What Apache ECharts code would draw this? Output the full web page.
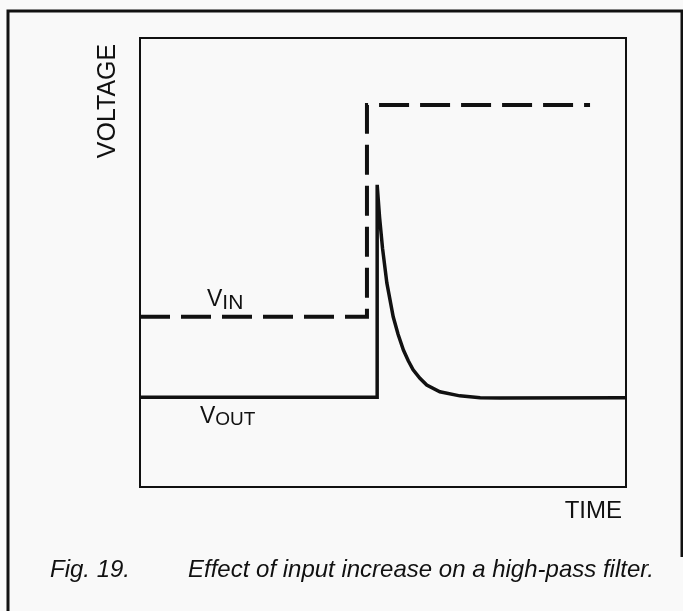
<!DOCTYPE html>
<html>
<head>
<meta charset="utf-8">
<script src="https://cdn.jsdelivr.net/npm/echarts@6/dist/echarts.min.js"></script>
<style>
html,body{margin:0;padding:0;background:#f9f9f9;}
#chart{width:683px;height:611px;}
</style>
</head>
<body>
<div id="chart"></div>
<script>
// V_IN (dashed): step input
const vinTime    = [0, 46.7, 46.7, 92.6];
const vinVoltage = [37.9, 37.9, 85.1, 85.1];
// V_OUT (solid): high-pass filter response
const voutTime    = [0, 48.8, 48.8, 49.3, 49.9, 50.8, 52.1, 53.1, 54.2, 55.2, 56.2, 57.6, 59.0, 61.7, 65.8, 70.0, 74.1, 100];
const voutVoltage = [20, 20, 67.3, 60.0, 53.2, 45.4, 37.9, 34.0, 30.5, 28.1, 26.1, 24.2, 22.7, 21.2, 20.3, 19.9, 19.8, 19.9];
// text
const yTitle = 'VOLTAGE';
const xTitle = 'TIME';
const caption1 = 'Fig. 19.';
const caption2 = 'Effect of input increase on a high-pass filter.';

const zip = (a, b) => a.map((v, i) => [v, b[i]]);

const chart = echarts.init(document.getElementById('chart'), null, {renderer: 'canvas'});
const ink = '#111';
const font = '"Liberation Sans", Arial, sans-serif';

chart.setOption({
  backgroundColor: '#f9f9f9',
  animation: false,
  grid: {left: 140, top: 38, right: 57, bottom: 124, show: true, borderColor: ink, borderWidth: 2, backgroundColor: 'transparent'},
  xAxis: {type: 'value', min: 0, max: 100, axisLine: {show: false}, axisTick: {show: false}, axisLabel: {show: false}, splitLine: {show: false}},
  yAxis: {type: 'value', min: 0, max: 100, axisLine: {show: false}, axisTick: {show: false}, axisLabel: {show: false}, splitLine: {show: false}},
  series: [
    {
      name: 'VIN', type: 'line', data: zip(vinTime, vinVoltage), showSymbol: false, symbol: 'none',
      lineStyle: {color: ink, width: 4, type: [30, 11], cap: 'butt', join: 'miter'}
    },
    {
      name: 'VOUT', type: 'line', data: zip(voutTime, voutVoltage), showSymbol: false, symbol: 'none',
      lineStyle: {color: ink, width: 3.5, type: 'solid', cap: 'butt', join: 'miter'}
    }
  ],
  graphic: [
    {type: 'polyline', shape: {points: [[8, 611], [8, 11], [682, 11], [682, 557]]},
     style: {stroke: ink, lineWidth: 3, fill: null}},
    {type: 'text', x: 108, y: 101, rotation: Math.PI / 2,
     style: {text: yTitle, font: '25px ' + font, fill: ink, textAlign: 'center', textVerticalAlign: 'middle'}},
    {type: 'text', x: 622, y: 511,
     style: {text: xTitle, font: '24px ' + font, fill: ink, textAlign: 'right', textVerticalAlign: 'middle'}},
    {type: 'text', x: 207, y: 288,
     style: {text: '{v|V}{s|IN}', fill: ink,
       rich: {v: {fontSize: 23, fontFamily: font, color: ink, verticalAlign: 'top', lineHeight: 20},
              s: {fontSize: 21, fontFamily: font, color: ink, verticalAlign: 'bottom', lineHeight: 26, padding: [6, 0, 0, 0]}}}},
    {type: 'text', x: 200, y: 405,
     style: {text: '{v|V}{s|OUT}', fill: ink,
       rich: {v: {fontSize: 23, fontFamily: font, color: ink, verticalAlign: 'top', lineHeight: 20},
              s: {fontSize: 19, fontFamily: font, color: ink, verticalAlign: 'bottom', lineHeight: 24, padding: [6, 0, 0, 0]}}}},
    {type: 'text', x: 50, y: 570,
     style: {text: caption1, font: 'italic 24px ' + font, fill: ink, textAlign: 'left', textVerticalAlign: 'middle'}},
    {type: 'text', x: 188, y: 570,
     style: {text: caption2, font: 'italic 24px ' + font, fill: ink, textAlign: 'left', textVerticalAlign: 'middle'}}
  ]
});
</script>
</body>
</html>
